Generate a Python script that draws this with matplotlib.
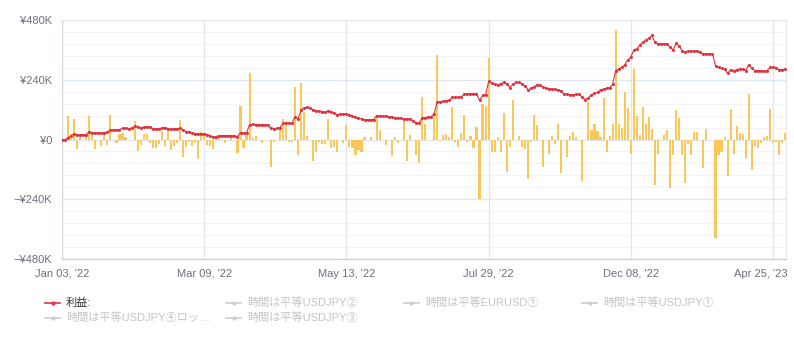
import numpy as np
import matplotlib
matplotlib.use("Agg")
import matplotlib.pyplot as plt
import matplotlib.transforms as mtransforms
from matplotlib.lines import Line2D

plt.rcParams['font.family'] = ['Liberation Sans', 'Noto Sans CJK JP', 'DejaVu Sans']

# cumulative profit (K yen), one value per trading day
profit = [
    -2, 0, 8, 14, 24, 19, 19, 20, 19, 32,
    28, 27, 27, 26, 27, 30, 39, 39, 39, 40,
    45, 45, 44, 46, 53, 50, 48, 49, 52, 50,
    43, 43, 44, 46, 48, 44, 41, 43, 44, 45,
    40, 32, 30, 27, 24, 23, 23, 23, 20, 15,
    9, 12, 16, 16, 15, 16, 16, 15, 12, 27,
    27, 27, 60, 61, 60, 60, 60, 59, 58, 45,
    44, 45, 47, 65, 65, 66, 65, 92, 83, 118,
    127, 130, 126, 120, 116, 113, 111, 110, 116, 112,
    106, 100, 102, 101, 103, 99, 94, 90, 86, 83,
    80, 80, 80, 80, 96, 95, 94, 93, 92, 90,
    88, 86, 85, 83, 83, 82, 76, 68, 65, 87,
    88, 90, 92, 103, 150, 152, 154, 156, 157, 170,
    169, 170, 171, 184, 183, 184, 184, 184, 157, 177,
    178, 233, 226, 222, 220, 224, 230, 224, 208, 222,
    230, 229, 224, 216, 200, 205, 212, 220, 217, 210,
    206, 204, 203, 201, 200, 195, 181, 182, 180, 180,
    181, 181, 170, 160, 168, 180, 186, 190, 200, 202,
    206, 208, 221, 277, 284, 290, 300, 320, 330, 360,
    364, 380, 391, 400, 408, 418, 390, 384, 384, 385,
    384, 371, 360, 387, 375, 355, 352, 355, 354, 355,
    355, 350, 344, 344, 345, 344, 297, 290, 286, 282,
    266, 280, 276, 281, 283, 283, 277, 300, 286, 277,
    277, 277, 274, 276, 290, 290, 289, 280, 281, 282,
]

# daily profit (K yen)
daily = [
    -29, 0, 94, 24, 84, -40, 17, 0, 13, 94,
    21, -40, 0, -27, 31, -24, 98, 0, -13, 21,
    27, 11, 0, 0, 74, -46, -24, 24, 24, -13,
    -36, -36, -19, 35, -27, 47, -43, -27, -16, 78,
    -72, -32, -9, -27, -16, -78, 31, 17, -24, -27,
    -40, 13, 17, 0, -16, 0, 17, 0, -56, 134,
    -36, 24, 268, 7, 13, 0, -13, 0, 0, -110,
    -9, 0, 51, 84, 75, -9, -9, 212, -63, 228,
    111, 13, 0, -87, -50, -9, -20, -20, 84, -36,
    -29, -50, 0, -13, 58, -29, -36, -63, -43, -50,
    11, 0, 11, 0, 98, 37, 0, -23, 0, -67,
    11, -13, 0, 84, -87, 17, 0, -63, -94, 171,
    64, 0, 0, 98, 341, -5, 17, 24, 11, 131,
    -9, -29, 27, 98, -9, 13, -33, 51, -237, 142,
    134, 329, -50, -50, 11, -50, 107, -130, -29, 158,
    0, 13, -29, -40, -157, -9, 98, 58, 0, -110,
    0, -59, 13, -19, 64, -133, 0, -70, 13, 31,
    11, 0, -167, 0, 151, 40, 64, 33, 11, 165,
    -50, 13, 64, 439, 64, 48, 191, 125, -59, 285,
    94, 17, 131, 64, 91, 44, -183, -59, 0, 17,
    40, -193, -63, 118, 88, -63, -174, -19, -63, 31,
    31, 0, -114, 44, 0, 0, -394, -63, -50, 11,
    -146, 122, -60, 55, 27, 24, -76, 181, -123, -27,
    -36, -13, 11, 13, 122, -16, -9, -63, -13, 28,
]

tick_pos = [0, 47, 94, 141, 188, 235]
tick_labels = ["Jan 03, '22", "Mar 09, '22", "May 13, '22", "Jul 29, '22", "Dec 08, '22", "Apr 25, '23"]
y_ticks = [-480, -240, 0, 240, 480]
y_labels = ["\u2212¥480K", "\u2212¥240K", "¥0", "¥240K", "¥480K"]

legend_names = ["利益:", "時間は平等USDJPY②", "時間は平等EURUSD①", "時間は平等USDJPY①",
                "時間は平等USDJPY④ロッ…", "時間は平等USDJPY③"]

x = np.arange(len(profit))

fig = plt.figure(figsize=(7.94, 3.51), dpi=100)
ax = fig.add_axes([62 / 794, 1 - 259 / 351, 724 / 794, 239 / 351])

# grid
for v in range(-480, 481, 48):
    if v % 240 == 0:
        continue
    ax.axhline(v, color='#f3f4f7', lw=0.8, zorder=0)
for v in y_ticks:
    ax.axhline(v, color='#e0e6f1', lw=0.9, zorder=0)
for p in tick_pos:
    ax.axvline(p, color='#e0e6f1', lw=0.9, zorder=0)

ax.bar(x, daily, width=0.7, color='#fac858', linewidth=0, antialiased=False, zorder=2)
ax.plot(x, profit, color='#e0323c', lw=0.8, marker='o', ms=1.2, zorder=3)

ax.set_xlim(0, len(profit) - 0.7)
ax.set_ylim(-480, 480)
ax.set_yticks(y_ticks)
ax.set_yticklabels(y_labels)
ax.set_xticks(tick_pos)
ax.set_xticklabels(tick_labels)
ax.tick_params(length=0, labelsize=8, colors='#6e7079', pad=7)
last = ax.get_xticklabels()[-1]
last.set_ha('right')
last.set_transform(last.get_transform() +
                   mtransforms.ScaledTranslation(0.15, 0, fig.dpi_scale_trans))
ax.spines['top'].set_visible(False)
ax.spines['left'].set_color('#d6dae3')
ax.spines['right'].set_color('#e6e8ee')
ax.spines['bottom'].set_color('#c9d0dc')
for s in ax.spines.values():
    s.set_linewidth(0.9)

# legend, laid out like the original
cols = [45, 226, 404, 582]
rows = [303, 318]
pos = [(cols[0], rows[0]), (cols[1], rows[0]), (cols[2], rows[0]), (cols[3], rows[0]),
       (cols[0], rows[1]), (cols[1], rows[1])]
for i, (name, (px, py)) in enumerate(zip(legend_names, pos)):
    c = '#e0323c' if i == 0 else '#cccccc'
    tc = '#333333' if i == 0 else '#c4c4c4'
    fy = 1 - py / 351
    fig.add_artist(Line2D([px / 794, (px + 15) / 794], [fy, fy], color=c, lw=1.2,
                          transform=fig.transFigure))
    fig.add_artist(Line2D([(px + 7.5) / 794], [fy], color=c, marker='o', ms=2,
                          transform=fig.transFigure))
    fig.text((px + 21) / 794, fy, name, fontsize=8, color=tc, va='center', ha='left')

fig.savefig("out.png", dpi=100)
